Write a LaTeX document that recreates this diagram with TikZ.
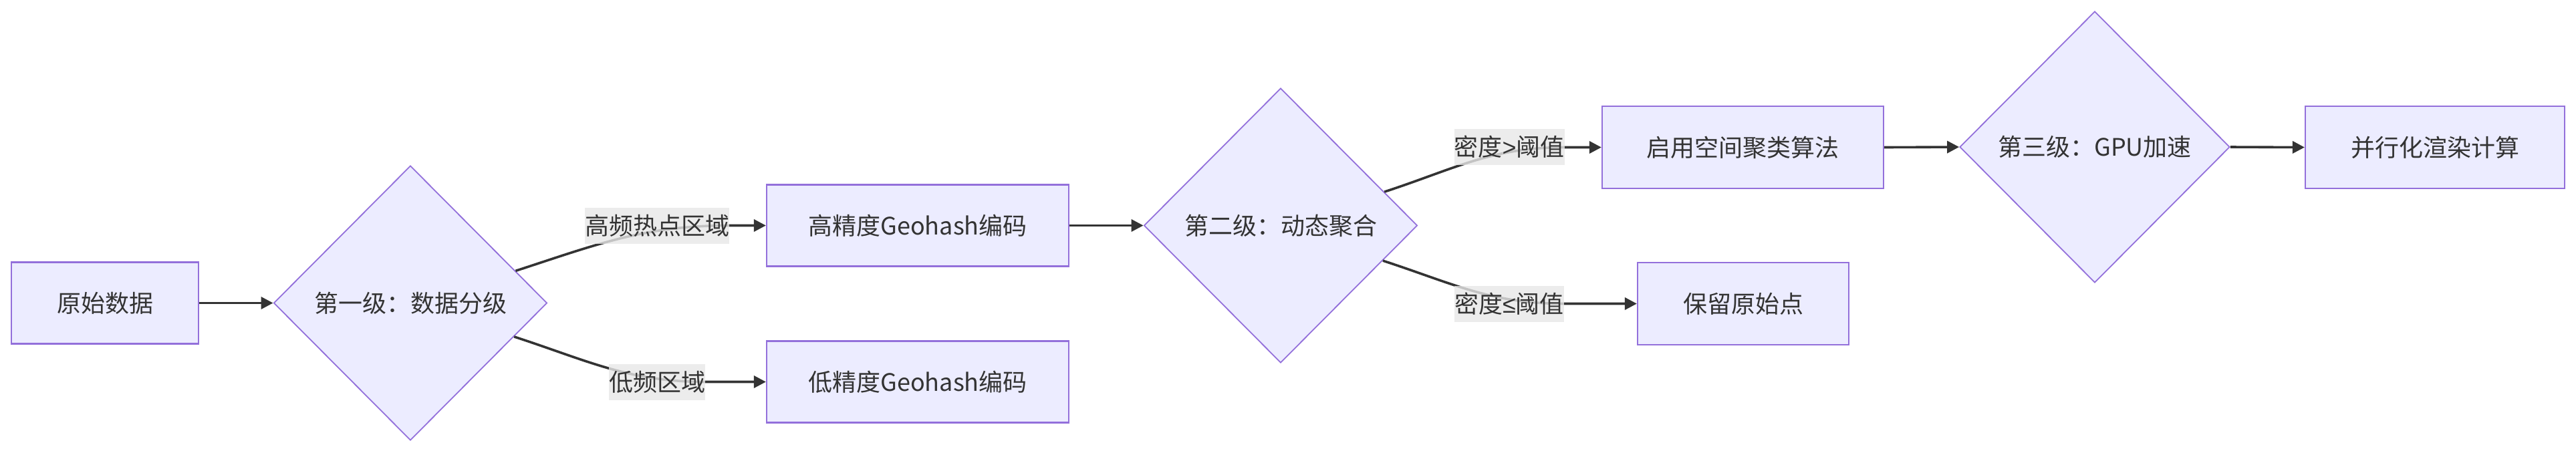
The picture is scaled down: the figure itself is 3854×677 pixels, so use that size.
\documentclass[tikz,border=0pt]{standalone}
\usepackage{fontspec}
\setmainfont{Noto Sans CJK SC}
\newfontfamily\symfam{Liberation Sans}
\usetikzlibrary{shapes.geometric,arrows.meta}
\definecolor{nodefill}{HTML}{ECECFF}
\definecolor{nodestroke}{HTML}{9370DB}
\definecolor{edgecol}{HTML}{333333}
\definecolor{lblbg}{HTML}{E8E8E8}
\definecolor{txt}{HTML}{333333}
\begin{document}
\begin{tikzpicture}[x=0.25pt,y=-0.25pt,
  every node/.style={font=\fontsize{9}{11}\selectfont, text=txt},
  box/.style={draw=nodestroke, fill=nodefill, line width=0.55pt, rectangle, inner sep=0pt, minimum height=30.5pt},
  dec/.style={draw=nodestroke, fill=nodefill, line width=0.45pt, diamond, aspect=1, inner sep=0pt},
  edge/.style={draw=edgecol, line width=0.9pt, -{Triangle[length=4.5pt,width=4.5pt]}},
  lbl/.style={fill=lblbg, fill opacity=0.8, text opacity=1, inner xsep=0pt, inner ysep=0pt, minimum height=13.5pt}
]
\useasboundingbox (0,0) rectangle (3854,677);
\fill[white] (0,0) rectangle (3854,677);

\node[box, minimum width=70pt] (A) at (157,453.5) {原始数据};
\node[dec, minimum width=102.25pt, minimum height=102.75pt] (B) at (614,453.5) {第一级：数据分级};
\node[box, minimum width=113pt] (C) at (1373,337.5) {高精度Geohash编码};
\node[box, minimum width=113pt] (D) at (1373,571.5) {低精度Geohash编码};
\node[dec, minimum width=102.25pt, minimum height=102.75pt] (E) at (1916,337.5) {第二级：动态聚合};
\node[box, minimum width=105.25pt, minimum height=30.75pt] (F) at (2607.5,220.5) {启用空间聚类算法};
\node[box, minimum width=79pt, minimum height=30.75pt] (G) at (2608,454.5) {保留原始点};
\node[dec, minimum width=101pt, minimum height=101.5pt] (H) at (3134,220) {第三级：GPU加速};
\node[box, minimum width=97pt, minimum height=30.75pt] (I) at (3643,220.5) {并行化渲染计算};

\coordinate (q1) at (1091,337.5);
\coordinate (q2) at (1055,571.5);
\coordinate (q3) at (2339,220.5);
\coordinate (q4) at (2339,454.5);

\draw[edge] (A.east) -- (B.west);
\draw[edge] (B.17) to[out=18,in=180] (q1) -- (C.west);
\draw[edge] (B.-18.5) to[out=-18,in=180] (q2) -- (D.west);
\draw[edge] (C.east) -- (E.west);
\draw[edge] (E.18.3) to[out=18,in=180] (q3) -- (F.west);
\draw[edge] (E.-19.3) to[out=-18,in=180] (q4) -- (G.west);
\draw[edge] (F.east) -- (H.west);
\draw[edge] (H.east) -- (I.west);

\node[lbl] (l1) at (983,338) {高频热点区域};
\node[lbl] (l2) at (983,571.5) {低频区域};
\node[lbl] (l3) at (2258,220) {密度{\symfam >}阈值};
\node[lbl] (l4) at (2258,455) {密度{\symfam ≤}阈值};
\end{tikzpicture}
\end{document}
